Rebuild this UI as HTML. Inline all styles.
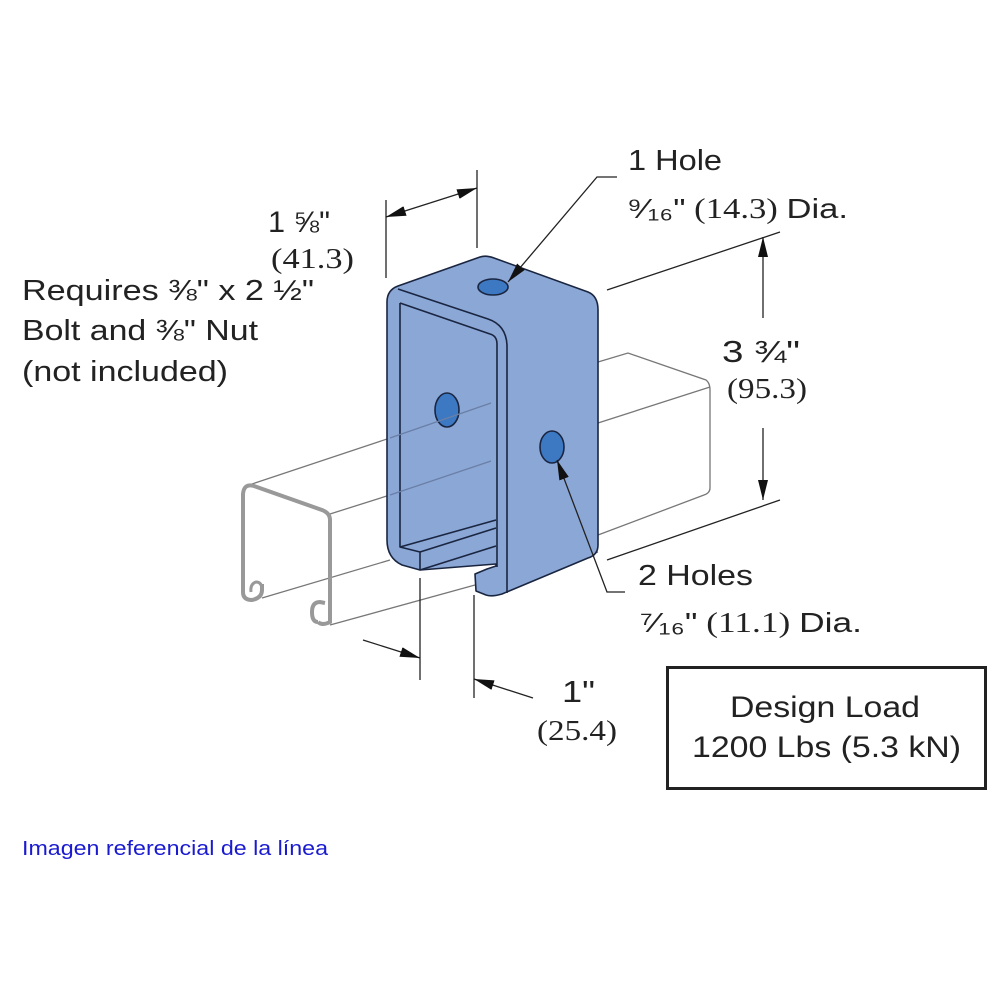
<!DOCTYPE html>
<html><head><meta charset="utf-8"><style>
body{margin:0;background:#fff}
svg{display:block}
.s{font-family:"Liberation Sans",sans-serif;fill:#222}
.r{font-family:"Liberation Serif",serif;fill:#222}
</style></head><body>
<svg width="1000" height="1000" viewBox="0 0 1000 1000" xmlns="http://www.w3.org/2000/svg">
<defs>
<marker id="b" viewBox="0 0 20 10" refX="20" refY="5" markerWidth="20" markerHeight="10" markerUnits="userSpaceOnUse" orient="auto"><path d="M0,0L20,5L0,10z" fill="#111"/></marker>
</defs>
<g fill="none" stroke="#777" stroke-width="1.3">
<path d="M252,484 L390,438"/>
<path d="M330,514 L390,495"/>
<path d="M330,625 L475,585"/>
<path d="M262,598 L390,560"/>
<path d="M598,362 L628,353 L706,380 Q710,383 710,390 L710,488 Q710,493 704,495 L598,535"/>
<path d="M598,423 L710,387"/>
<path d="M598,552 L520,578"/>
</g>
<path d="M318,622 Q322,626 330,622 L330,520 Q330,513 322,510 L254,486 Q244,483 243,494 L243,592 Q243,600 252,600 Q262,598 262,590 L262,584 M318,622 Q312,622 312,612 Q312,602 320,602 L325,603" fill="none" stroke="#999" stroke-width="4"/>
<path d="M262,590 Q262,582 256,582 Q250,584 251,592" fill="none" stroke="#999" stroke-width="3"/>
<g stroke="#1a2540" stroke-width="1.6" stroke-linejoin="round">
<path d="M387,302 Q387,290 398,286 L480,257 Q486,255 494,258 L588,292 Q598,296 598,310 L598,545 Q598,555 588,558 L502,594 Q492,597 486,595 L476,591 L475,574 L487,569 L496,566 L496,564 L420,570 L402,565 Q387,558 387,540 Z" fill="#8aa7d6"/>
<path d="M400,303 L400,547 L420,552 L420,570" fill="none"/>
<path d="M400,303 L490,334 Q497,336 497,344 L497,567" fill="none"/>
<path d="M507,345 L507,593" fill="none"/>
<path d="M398,289 L488,319 Q506,325 507,345" fill="none"/>
<path d="M420,552 L496,528 M400,547 L496,520" fill="none"/>
<path d="M420,570 L496,546" fill="none"/>
<ellipse cx="493" cy="287" rx="15" ry="8" fill="#3d78c2"/>
<ellipse cx="447" cy="410" rx="12" ry="17" fill="#3d78c2"/>
<ellipse cx="552" cy="447" rx="12" ry="16" fill="#3d78c2"/>
</g>
<g stroke="#6a7fa6" stroke-width="1.2"><path d="M390,438 L491,403"/><path d="M390,495 L491,461"/></g>
<g stroke="#222" stroke-width="1.3" fill="none">
<path d="M386,200 L386,278"/><path d="M477,170 L477,248"/>
<path d="M430,203 L386,217" marker-end="url(#b)"/><path d="M430,203 L477,188" marker-end="url(#b)"/>
<path d="M607,290 L780,232"/><path d="M607,560 L780,500"/>
<path d="M763,318 L763,237" marker-end="url(#b)"/><path d="M763,428 L763,500" marker-end="url(#b)"/>
<path d="M420,578 L420,680"/><path d="M474,595 L474,698"/>
<path d="M363,640 L420,658" marker-end="url(#b)"/><path d="M533,698 L474,679" marker-end="url(#b)"/>
<path d="M617,177 L597,177 L508,282" marker-end="url(#b)"/>
<path d="M625,592 L607,592 L557,460" marker-end="url(#b)"/>
</g>
<text class="s" x="22" y="300" font-size="29" textLength="292" lengthAdjust="spacingAndGlyphs">Requires ⅜" x 2 ½"</text>
<text class="s" x="22" y="340" font-size="29" textLength="236" lengthAdjust="spacingAndGlyphs">Bolt and ⅜" Nut</text>
<text class="s" x="22" y="381" font-size="29" textLength="206" lengthAdjust="spacingAndGlyphs">(not included)</text>
<text class="s" x="268" y="232" font-size="30" textLength="62" lengthAdjust="spacingAndGlyphs">1 ⅝"</text>
<text class="r" x="271" y="268" font-size="29" textLength="83" lengthAdjust="spacingAndGlyphs">(41.3)</text>
<text class="s" x="628" y="170" font-size="29" textLength="94" lengthAdjust="spacingAndGlyphs">1 Hole</text>
<text x="627" y="218" font-size="28" textLength="221" lengthAdjust="spacingAndGlyphs"><tspan class="s">⁹⁄₁₆"</tspan><tspan class="r"> (14.3) </tspan><tspan class="s">Dia.</tspan></text>
<text class="s" x="722" y="362" font-size="31" textLength="78" lengthAdjust="spacingAndGlyphs">3 ¾"</text>
<text class="r" x="727" y="398" font-size="29" textLength="80" lengthAdjust="spacingAndGlyphs">(95.3)</text>
<text class="s" x="638" y="585" font-size="29" textLength="115" lengthAdjust="spacingAndGlyphs">2 Holes</text>
<text x="640" y="632" font-size="28" textLength="222" lengthAdjust="spacingAndGlyphs"><tspan class="s">⁷⁄₁₆"</tspan><tspan class="r"> (11.1) </tspan><tspan class="s">Dia.</tspan></text>
<text class="s" x="562" y="702" font-size="31" textLength="33" lengthAdjust="spacingAndGlyphs">1"</text>
<text class="r" x="537" y="740" font-size="29" textLength="80" lengthAdjust="spacingAndGlyphs">(25.4)</text>
<rect x="667.5" y="667.5" width="318" height="121" fill="none" stroke="#222" stroke-width="3"/>
<text class="s" x="730" y="717" font-size="30" textLength="190" lengthAdjust="spacingAndGlyphs">Design Load</text>
<text class="s" x="692" y="757" font-size="30" textLength="269" lengthAdjust="spacingAndGlyphs">1200 Lbs (5.3 kN)</text>
<text x="22" y="855" font-size="20" fill="#1a1ad0" font-family="'Liberation Sans',sans-serif" textLength="306" lengthAdjust="spacingAndGlyphs">Imagen referencial de la línea</text>
</svg>
</body></html>
